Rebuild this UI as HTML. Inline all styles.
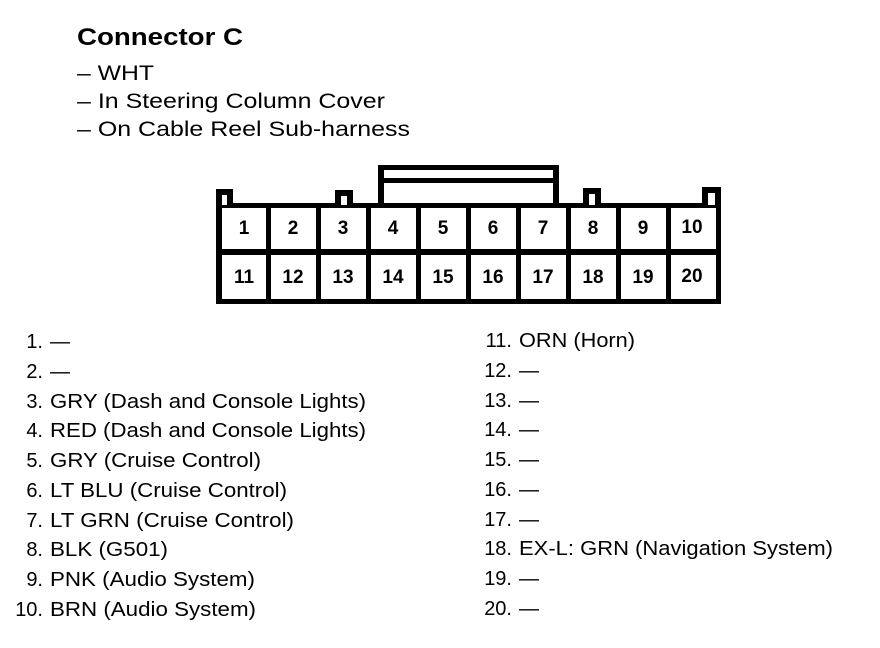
<!DOCTYPE html>
<html><head><style>
html,body{margin:0;padding:0;background:#fff;}
svg{display:block;font-family:"Liberation Sans",Arial,sans-serif;}
</style></head><body>
<svg width="880" height="648" viewBox="0 0 880 648" xmlns="http://www.w3.org/2000/svg">
<text x="77" y="45" font-size="24" font-weight="bold" textLength="166" lengthAdjust="spacingAndGlyphs">Connector C</text>
<g font-size="21">
<text x="77" y="80" textLength="77" lengthAdjust="spacingAndGlyphs">– WHT</text>
<text x="77" y="108" textLength="308" lengthAdjust="spacingAndGlyphs">– In Steering Column Cover</text>
<text x="77" y="136" textLength="333" lengthAdjust="spacingAndGlyphs">– On Cable Reel Sub-harness</text>
</g>
<!-- connector -->
<g fill="#000">
<rect x="216" y="203" width="505" height="101"/>
<rect x="216" y="189" width="17" height="19"/>
<rect x="335" y="190" width="18" height="18"/>
<rect x="583" y="188" width="18" height="20"/>
<rect x="702" y="187" width="19" height="21"/>
<rect x="378" y="165" width="181" height="40"/>
</g>
<rect x="222" y="195" width="5" height="10" fill="#fff"/>
<rect x="341" y="196" width="6" height="9" fill="#fff"/>
<rect x="589" y="194" width="6" height="11" fill="#fff"/>
<rect x="708" y="193" width="7" height="12" fill="#fff"/>
<rect x="384" y="170" width="169" height="8" fill="#fff"/>
<rect x="384" y="183" width="169" height="20" fill="#fff"/>
<g fill="#fff">
<rect x="222" y="208" width="44" height="41"/><rect x="271" y="208" width="45" height="41"/><rect x="321" y="208" width="45" height="41"/><rect x="371" y="208" width="45" height="41"/><rect x="421" y="208" width="45" height="41"/><rect x="471" y="208" width="45" height="41"/><rect x="521" y="208" width="45" height="41"/><rect x="571" y="208" width="45" height="41"/><rect x="621" y="208" width="45" height="41"/><rect x="671" y="208" width="45" height="41"/>
<rect x="222" y="255" width="44" height="44"/><rect x="271" y="255" width="45" height="44"/><rect x="321" y="255" width="45" height="44"/><rect x="371" y="255" width="45" height="44"/><rect x="421" y="255" width="45" height="44"/><rect x="471" y="255" width="45" height="44"/><rect x="521" y="255" width="45" height="44"/><rect x="571" y="255" width="45" height="44"/><rect x="621" y="255" width="45" height="44"/><rect x="671" y="255" width="45" height="44"/>
</g>
<g font-size="19" font-weight="bold" text-anchor="middle">
<text x="244" y="234">1</text><text x="293" y="234">2</text><text x="343" y="234">3</text><text x="393" y="234">4</text><text x="443" y="234">5</text><text x="493" y="234">6</text><text x="543" y="234">7</text><text x="593" y="234">8</text><text x="643" y="234">9</text><text x="692" y="233">10</text>
<text x="244" y="283">11</text><text x="293" y="283">12</text><text x="343" y="283">13</text><text x="393" y="283">14</text><text x="443" y="283">15</text><text x="493" y="283">16</text><text x="543" y="283">17</text><text x="593" y="283">18</text><text x="643" y="283">19</text><text x="692" y="282">20</text>
</g>
<!-- lists -->
<g font-size="20">
<g text-anchor="end">
<text x="43" y="348">1.</text><text x="43" y="378">2.</text><text x="43" y="408">3.</text><text x="43" y="437">4.</text><text x="43" y="467">5.</text><text x="43" y="497">6.</text><text x="43" y="527">7.</text><text x="43" y="556">8.</text><text x="43" y="586">9.</text><text x="43" y="616">10.</text>
<text x="512" y="347">11.</text><text x="512" y="377">12.</text><text x="512" y="407">13.</text><text x="512" y="436">14.</text><text x="512" y="466">15.</text><text x="512" y="496">16.</text><text x="512" y="526">17.</text><text x="512" y="555">18.</text><text x="512" y="585">19.</text><text x="512" y="615">20.</text>
</g>
<text x="50" y="348">—</text><text x="50" y="378">—</text>
<text x="50" y="408" textLength="316" lengthAdjust="spacingAndGlyphs">GRY (Dash and Console Lights)</text>
<text x="50" y="437" textLength="316" lengthAdjust="spacingAndGlyphs">RED (Dash and Console Lights)</text>
<text x="50" y="467" textLength="211" lengthAdjust="spacingAndGlyphs">GRY (Cruise Control)</text>
<text x="50" y="497" textLength="237" lengthAdjust="spacingAndGlyphs">LT BLU (Cruise Control)</text>
<text x="50" y="527" textLength="244" lengthAdjust="spacingAndGlyphs">LT GRN (Cruise Control)</text>
<text x="50" y="556" textLength="118" lengthAdjust="spacingAndGlyphs">BLK (G501)</text>
<text x="50" y="586" textLength="205" lengthAdjust="spacingAndGlyphs">PNK (Audio System)</text>
<text x="50" y="616" textLength="206" lengthAdjust="spacingAndGlyphs">BRN (Audio System)</text>
<text x="519" y="347" textLength="116" lengthAdjust="spacingAndGlyphs">ORN (Horn)</text>
<text x="519" y="377">—</text><text x="519" y="407">—</text><text x="519" y="436">—</text><text x="519" y="466">—</text><text x="519" y="496">—</text><text x="519" y="526">—</text>
<text x="519" y="555" textLength="314" lengthAdjust="spacingAndGlyphs">EX-L: GRN (Navigation System)</text>
<text x="519" y="585">—</text><text x="519" y="615">—</text>
</g>
</svg>
</body></html>
